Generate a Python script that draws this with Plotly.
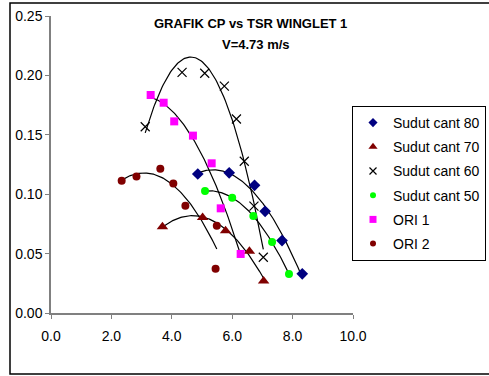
import numpy as np
import plotly.graph_objects as go

# --- data ---
tsr_80 = [4.86, 5.90, 6.74, 7.09, 7.65, 8.32]
cp_80 = [0.117, 0.118, 0.1075, 0.0856, 0.061, 0.033]

tsr_70 = [3.69, 5.02, 5.78, 6.57, 7.04]
cp_70 = [0.0727, 0.0803, 0.0693, 0.052, 0.027]

tsr_60 = [3.12, 4.34, 5.09, 5.74, 6.14, 6.40, 6.72, 7.03]
cp_60 = [0.1568, 0.2026, 0.2018, 0.191, 0.1633, 0.1277, 0.090, 0.0469]

tsr_50 = [5.10, 6.00, 6.70, 7.32, 7.88]
cp_50 = [0.1027, 0.097, 0.0816, 0.0598, 0.0328]

tsr_ori1 = [3.30, 3.73, 4.08, 4.70, 5.32, 5.62, 6.28]
cp_ori1 = [0.1835, 0.177, 0.1613, 0.1493, 0.126, 0.0881, 0.0497]

tsr_ori2 = [2.34, 2.83, 3.62, 4.05, 4.45, 5.49, 5.45]
cp_ori2 = [0.1114, 0.115, 0.1215, 0.1091, 0.0903, 0.0735, 0.0373]

names = ["Sudut cant 80", "Sudut cant 70", "Sudut cant 60",
         "Sudut cant 50", "ORI 1", "ORI 2"]
series_x = [tsr_80, tsr_70, tsr_60, tsr_50, tsr_ori1, tsr_ori2]
series_y = [cp_80, cp_70, cp_60, cp_50, cp_ori1, cp_ori2]
colors = ["#000080", "#800000", "#000000", "#00FF00", "#FF00FF", "#800000"]
symbols = ["diamond", "triangle-up", "x-thin", "circle", "square", "circle"]
sizes = [9, 10, 9, 8, 8, 8]
legend_sizes = [7, 8, 7, 6, 7, 6]
trend_deg = [2, 2, 2, 2, 2, 2]

fig = go.Figure()

# polynomial trendlines (Excel-style), computed from the data
for xs, ys, d in zip(series_x, series_y, trend_deg):
    c = np.polyfit(xs, ys, d)
    xx = np.linspace(min(xs), max(xs), 100)
    fig.add_trace(go.Scatter(x=xx, y=np.polyval(c, xx), mode="lines",
                             line=dict(color="black", width=1.2),
                             showlegend=False, hoverinfo="skip"))

for i, (n, xs, ys) in enumerate(zip(names, series_x, series_y)):
    mk = dict(color=colors[i], symbol=symbols[i], size=sizes[i])
    if symbols[i] == "x-thin":
        mk["line"] = dict(color="black", width=1.2)
    fig.add_trace(go.Scatter(x=xs, y=ys, mode="markers", name=n, marker=mk,
                             showlegend=False, hoverinfo="x+y"))

# legend entries (smaller markers, like the reference legend)
for i, n in enumerate(names):
    mk = dict(color=colors[i], symbol=symbols[i], size=legend_sizes[i])
    if symbols[i] == "x-thin":
        mk["line"] = dict(color="black", width=1.2)
    fig.add_trace(go.Scatter(x=[None], y=[None], mode="markers", name=n,
                             marker=mk, legendgroup=n, showlegend=True))

W, H = 489, 376
L, R, T, B = 51, 353, 16, 313


def px_x(p):
    return (p - L) / (R - L)


def px_y(p):
    return (B - p) / (B - T)


fig.update_layout(
    width=W, height=H,
    margin=dict(l=L, r=W - R, t=T, b=H - B, autoexpand=False),
    paper_bgcolor="white", plot_bgcolor="white",
    font=dict(family="Liberation Sans, Arial, sans-serif", size=14, color="black"),
    showlegend=True,
    legend=dict(xref="container", yref="container",
                x=352 / W, y=1 - 106 / H, xanchor="left", yanchor="top",
                bordercolor="black", borderwidth=1, bgcolor="white",
                font=dict(size=14), tracegroupgap=3, itemwidth=30),
    xaxis=dict(range=[0, 10], dtick=2, tickformat=".1f", showgrid=False,
               zeroline=False, showline=True, linecolor="#808080", linewidth=1.5,
               ticks="outside", ticklen=4, tickcolor="#808080",
               ticklabelstandoff=5),
    yaxis=dict(range=[0, 0.25], dtick=0.05, tickformat=".2f", showgrid=False,
               zeroline=False, showline=True, linecolor="#808080", linewidth=1.5,
               ticks="outside", ticklen=4, tickcolor="#808080"),
    shapes=[dict(type="rect", xref="paper", yref="paper",
                 x0=px_x(10), x1=px_x(495), y0=px_y(374), y1=px_y(3),
                 line=dict(color="black", width=1.5), layer="below")],
    annotations=[
        dict(text="<b>GRAFIK CP vs TSR WINGLET 1</b>", xref="paper", yref="paper",
             x=px_x(250), y=px_y(24), showarrow=False, font=dict(size=13),
             xanchor="center", yanchor="middle"),
        dict(text="<b>V=4.73 m/s</b>", xref="paper", yref="paper",
             x=px_x(255.5), y=px_y(44), showarrow=False, font=dict(size=13),
             xanchor="center", yanchor="middle"),
    ],
)

fig.write_html("out.html")
